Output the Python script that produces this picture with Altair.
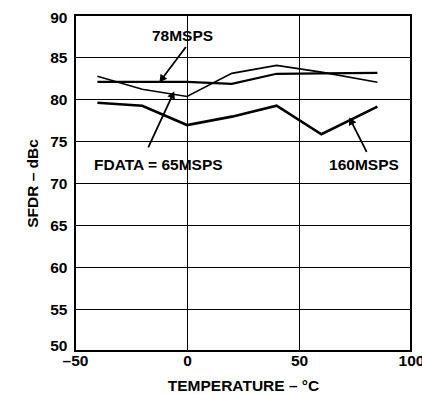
import altair as alt
import pandas as pd
import math

temps = [-40, -20, 0, 20, 40, 60, 85]
sfdr_65 = [82.7, 81.15, 80.3, 83.05, 84.0, 83.2, 82.0]
sfdr_78 = [82.05, 82.05, 82.05, 81.8, 83.0, 83.05, 83.1]
sfdr_160 = [79.55, 79.2, 76.9, 77.9, 79.2, 75.8, 79.1]

labels = ["78MSPS", "FDATA = 65MSPS", "160MSPS"]
label_x = [-2.0, -12.8, 79.0]
label_y = [87.5, 72.1, 72.1]
arrow_x = [-0.5, -17.3, 80.2]
arrow_y = [86.2, 74.25, 73.7]
arrow_x2 = [-11.3, -6.4, 73.2]
arrow_y2 = [82.35, 80.5, 77.4]

W, H = 336, 336
XMIN, XMAX, YMIN, YMAX = -50, 100, 50, 90
FONT = "Liberation Sans"
FS = 15.5

rows = []
for name, vals, w in [("65", sfdr_65, 1.6), ("78", sfdr_78, 2.2), ("160", sfdr_160, 2.6)]:
    for t, v in zip(temps, vals):
        rows.append({"series": name, "t": t, "v": v, "w": w})
df = pd.DataFrame(rows)

ann = pd.DataFrame({"label": labels, "x": label_x, "y": label_y})

arr_rows = []
for x1, y1, x2, y2 in zip(arrow_x, arrow_y, arrow_x2, arrow_y2):
    dx = (x2 - x1) * W / (XMAX - XMIN)
    dy = -(y2 - y1) * H / (YMAX - YMIN)
    ang = math.degrees(math.atan2(dx, -dy)) % 360
    arr_rows.append({"x1": x1, "y1": y1, "x2": x2, "y2": y2, "ang": ang})
arr = pd.DataFrame(arr_rows)

xscale = alt.Scale(domain=[XMIN, XMAX], nice=False)
yscale = alt.Scale(domain=[YMIN, YMAX], nice=False)

xaxis = alt.Axis(
    values=[-50, 0, 50, 100], title="TEMPERATURE – °C",
    labelExpr="datum.value < 0 ? '–' + abs(datum.value) : datum.label",
    grid=True, gridColor="black", gridWidth=1, gridOpacity=1,
    ticks=False, domain=False, labelPadding=2, labelFlush=False,
    labelFont=FONT, labelFontWeight="bold", labelFontSize=FS, labelColor="black",
    titleFont=FONT, titleFontWeight="bold", titleFontSize=FS, titleColor="black",
    titlePadding=10,
)
yaxis = alt.Axis(
    values=[50, 55, 60, 65, 70, 75, 80, 85, 90], title="SFDR – dBc",
    grid=True, gridColor="black", gridWidth=1, gridOpacity=1,
    ticks=False, domain=False, labelPadding=8, labelFlush=False,
    labelOffset=alt.expr("datum.value == 50 ? -6 : (datum.value == 90 ? 2 : 0)"),
    labelFont=FONT, labelFontWeight="bold", labelFontSize=FS, labelColor="black",
    titleFont=FONT, titleFontWeight="bold", titleFontSize=FS, titleColor="black",
    titlePadding=9,
)

base = alt.Chart(df)
lines = base.mark_line(color="black").encode(
    x=alt.X("t:Q", scale=xscale, axis=xaxis),
    y=alt.Y("v:Q", scale=yscale, axis=yaxis),
    detail="series:N",
    strokeWidth=alt.StrokeWidth("w:Q", scale=None, legend=None),
)

one = pd.DataFrame({"k": [0]})
left_edge = alt.Chart(one).mark_rect(color="black").encode(
    x=alt.value(-1), x2=alt.value(1), y=alt.value(-1), y2=alt.value(H + 1)
)
right_edge = alt.Chart(one).mark_rect(color="black").encode(
    x=alt.value(W - 1), x2=alt.value(W + 1), y=alt.value(-1), y2=alt.value(H + 1)
)
top_edge = alt.Chart(one).mark_rect(color="black").encode(
    x=alt.value(-1), x2=alt.value(W + 1), y=alt.value(-1), y2=alt.value(1)
)
bottom_edge = alt.Chart(one).mark_rect(color="black").encode(
    x=alt.value(-1), x2=alt.value(W + 1), y=alt.value(H - 1), y2=alt.value(H + 1)
)

texts = alt.Chart(ann).mark_text(
    font=FONT, fontWeight="bold", fontSize=FS, color="black"
).encode(x=alt.X("x:Q", scale=xscale), y=alt.Y("y:Q", scale=yscale), text="label:N")

shafts = alt.Chart(arr).mark_rule(color="black", strokeWidth=1.8).encode(
    x=alt.X("x1:Q", scale=xscale), y=alt.Y("y1:Q", scale=yscale),
    x2="x2:Q", y2="y2:Q",
)
heads = alt.Chart(arr).mark_point(
    shape="triangle-up", filled=True, color="black", opacity=1, size=70
).encode(
    x=alt.X("x2:Q", scale=xscale), y=alt.Y("y2:Q", scale=yscale),
    angle=alt.Angle("ang:Q", scale=None),
)

chart = alt.layer(
    lines, left_edge, right_edge, top_edge, bottom_edge, shafts, heads, texts
).properties(
    width=W, height=H,
    autosize=alt.AutoSizeParams(type="none"),
    padding={"left": 75, "top": 15, "right": 11, "bottom": 43},
).configure(background="white").configure_view(stroke="black", strokeWidth=2)

chart.save("out.html", embed_options={"renderer": "svg", "actions": False})
